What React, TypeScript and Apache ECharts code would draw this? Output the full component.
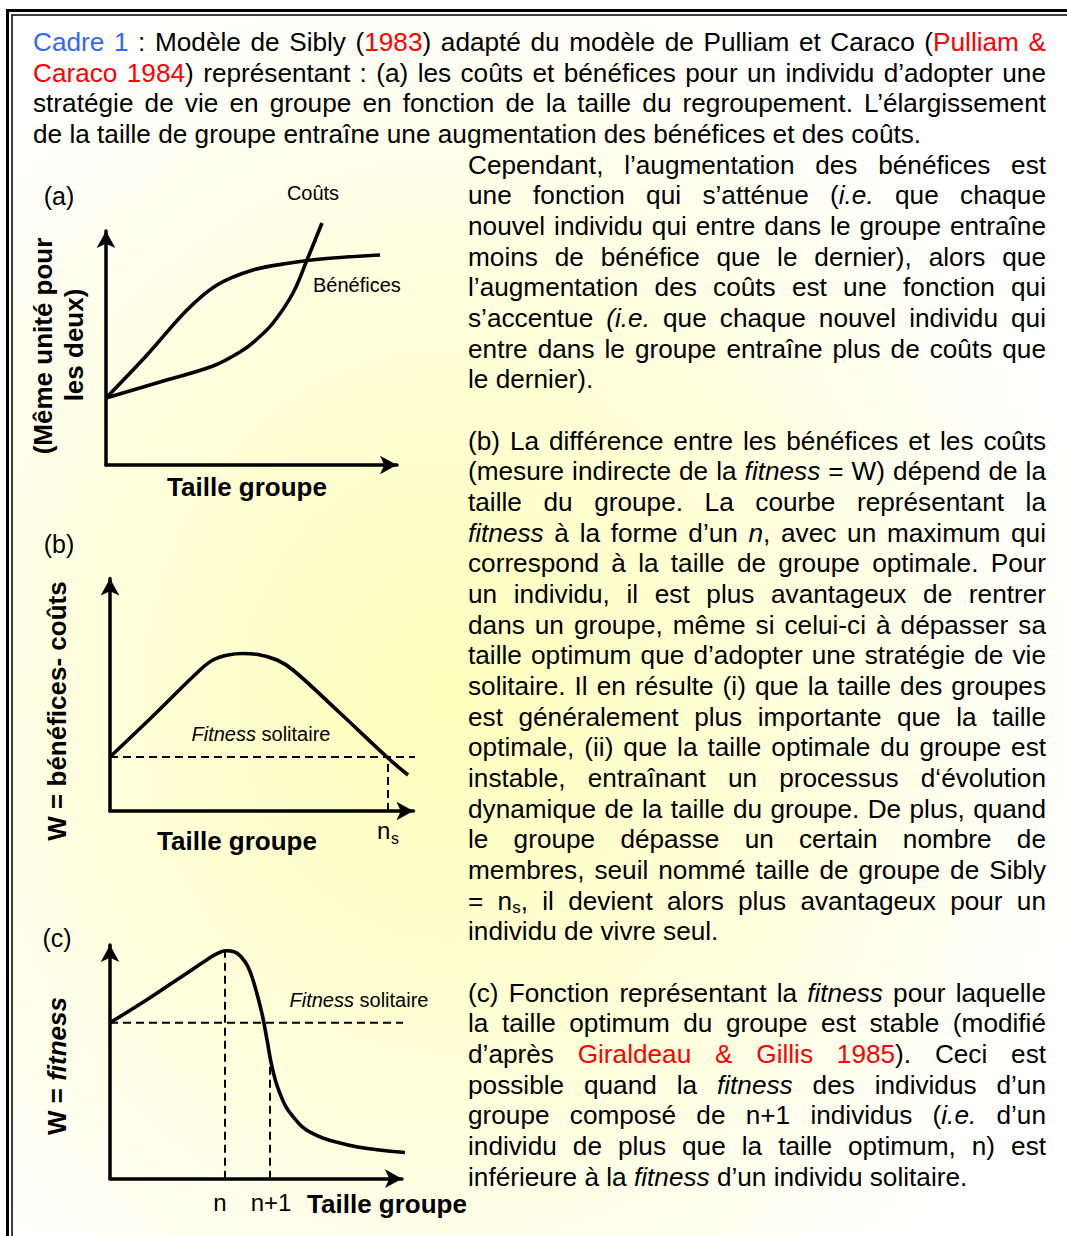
import React, { useEffect, useRef } from "react";
import * as echarts from "echarts";

const FONT = "'Liberation Sans', Arial, Helvetica, sans-serif";

// ---------- chart data (axis units = px from the origin of each small chart) ----------
// (a) benefits and costs vs group size
const benefitsA: number[][] = [[0, 67], [41, 110], [81, 155], [111, 180], [147, 195], [184, 202], [215, 206], [274, 210]];
const costsA: number[][] = [[0, 67], [54, 83], [107, 99], [134, 113], [150, 125], [167, 142], [187, 172], [201, 205], [216, 242]];
// (b) W = benefits - costs
const fitnessB: number[][] = [[0, 54], [45, 97], [90, 141], [103, 151], [118, 156], [133, 157.5], [148, 156.5], [167, 151], [183, 141], [230, 98], [278, 53], [298, 36]];
const solitaryB = 54;
const sibllyNB = 278;
const solitaryLineEndB = 311;
// (c) W = fitness, stable optimum
const fitnessC: number[][] = [[0, 156], [40, 181], [73, 203], [97, 219], [108, 225.5], [116, 228], [124, 227], [131, 222], [138, 212], [145, 192], [152, 165], [157, 139], [162, 112], [170, 85], [183, 62], [203, 45], [237, 34], [267, 29], [298, 26]];
const solitaryC = 156;
const solitaryLineEndC = 312;
const optimumNC = 115;
const optimumTopC = 228;
const nPlusOneC = 160;
const nPlusOneTopC = 118;

// ---------- text ----------
const headerLines: string[] = [
  "{b:Cadre 1} : Modèle de Sibly ({r:1983}) adapté du modèle de Pulliam et Caraco ({r:Pulliam &}",
  "{r:Caraco 1984}) représentant : (a) les coûts et bénéfices pour un individu d’adopter une",
  "stratégie de vie en groupe en fonction de la taille du regroupement. L’élargissement",
  "de la taille de groupe entraîne une augmentation des bénéfices et des coûts.",
];
const para1: string[] = [
  "Cependant, l’augmentation des bénéfices est",
  "une fonction qui s’atténue ({i:i.e.} que chaque",
  "nouvel individu qui entre dans le groupe entraîne",
  "moins de bénéfice que le dernier), alors que",
  "l’augmentation des coûts est une fonction qui",
  "s’accentue {i:(i.e.} que chaque nouvel individu qui",
  "entre dans le groupe entraîne plus de coûts que",
  "le dernier).",
];
const paraB: string[] = [
  "(b) La différence entre les bénéfices et les coûts",
  "(mesure indirecte de la {i:fitness} = W) dépend de la",
  "taille du groupe. La courbe représentant la",
  "{i:fitness} à la forme d’un {i:n}, avec un maximum qui",
  "correspond à la taille de groupe optimale. Pour",
  "un individu, il est plus avantageux de rentrer",
  "dans un groupe, même si celui-ci à dépasser sa",
  "taille optimum que d’adopter une stratégie de vie",
  "solitaire. Il en résulte (i) que la taille des groupes",
  "est généralement plus importante que la taille",
  "optimale, (ii) que la taille optimale du groupe est",
  "instable, entraînant un processus d‘évolution",
  "dynamique de la taille du groupe. De plus, quand",
  "le groupe dépasse un certain nombre de",
  "membres, seuil nommé taille de groupe de Sibly",
  "= n{s:s}, il devient alors plus avantageux pour un",
  "individu de vivre seul.",
];
const paraC: string[] = [
  "(c) Fonction représentant la {i:fitness} pour laquelle",
  "la taille optimum du groupe est stable (modifié",
  "d’après {r:Giraldeau & Gillis 1985}). Ceci est",
  "possible quand la {i:fitness} des individus d’un",
  "groupe composé de n+1 individus ({i:i.e.} d’un",
  "individu de plus que la taille optimum, n) est",
  "inférieure à la {i:fitness} d’un individu solitaire.",
];

type Piece = { t: string; k: string };
const BODY = 26.2;
const STY: Record<string, { size: number; italic?: boolean; fill: string; dy: number }> = {
  n: { size: BODY, fill: "#000", dy: 0 },
  i: { size: BODY, italic: true, fill: "#000", dy: 0 },
  r: { size: BODY, fill: "#FF0000", dy: 0 },
  b: { size: BODY, fill: "#3366FF", dy: 0 },
  s: { size: 17, fill: "#000", dy: 7 },
};

function parse(line: string): Piece[] {
  const out: Piece[] = [];
  const re = /\{(\w):([^}]*)\}/g;
  let last = 0;
  let m: RegExpExecArray | null;
  while ((m = re.exec(line))) {
    if (m.index > last) out.push({ t: line.slice(last, m.index), k: "n" });
    out.push({ t: m[2], k: m[1] });
    last = re.lastIndex;
  }
  if (last < line.length) out.push({ t: line.slice(last), k: "n" });
  return out;
}

function toWords(pieces: Piece[]): Piece[][] {
  const ws: Piece[][] = [];
  let cur: Piece[] | null = null;
  pieces.forEach((p) => {
    p.t.split(" ").forEach((seg, i) => {
      if (i > 0 || !cur) {
        cur = [];
        ws.push(cur);
      }
      if (seg) (cur as Piece[]).push({ t: seg, k: p.k });
    });
  });
  return ws.filter((w) => w.length > 0);
}

function cssFont(k: string) {
  const s = STY[k];
  return `${s.italic ? "italic " : ""}${s.size}px 'Liberation Sans'`;
}

function layoutParagraph(lines: string[], k0: number, x0: number, x1: number, ctx: CanvasRenderingContext2D, out: any[]) {
  lines.forEach((line, li) => {
    const y = 42 + (k0 + li) * 30.67;
    const justify = li < lines.length - 1;
    const ws = toWords(parse(line));
    const widths = ws.map((w) => w.map((p) => { ctx.font = cssFont(p.k); return ctx.measureText(p.t).width; }));
    const wordW = widths.map((a) => a.reduce((s, v) => s + v, 0));
    const total = wordW.reduce((s, v) => s + v, 0);
    ctx.font = cssFont("n");
    const space = ctx.measureText(" ").width;
    const gap = justify && ws.length > 1 ? (x1 - x0 - total) / (ws.length - 1) : space;
    let x = x0;
    ws.forEach((w, wi) => {
      let px = x;
      w.forEach((p, pi) => {
        const s = STY[p.k];
        out.push({
          type: "text", x: px, y: y + s.dy, silent: true, z: 10,
          style: { text: p.t, fontSize: s.size, fontFamily: FONT, fontStyle: s.italic ? "italic" : "normal", fill: s.fill, textAlign: "left", textVerticalAlign: "middle" },
        });
        px += widths[wi][pi];
      });
      x += wordW[wi] + gap;
    });
  });
}

function txt(x: number, y: number, text: string, size: number, opts: any = {}) {
  return {
    type: "text", x, y, rotation: opts.rotation || 0, silent: true, z: 10,
    style: {
      text, fontSize: size, fontFamily: FONT, fontWeight: opts.bold ? "bold" : "normal", fontStyle: opts.italic ? "italic" : "normal",
      fill: "#000", textAlign: opts.align || "center", textVerticalAlign: "middle",
    },
  };
}

function richFitness(x: number, y: number) {
  return {
    type: "text", x, y, silent: true, z: 10,
    style: {
      text: "{i|Fitness}{n| solitaire}", fontSize: 20, fontFamily: FONT, fill: "#000", textAlign: "center", textVerticalAlign: "middle",
      rich: {
        i: { fontStyle: "italic", fontSize: 20, fontFamily: FONT, fill: "#000" },
        n: { fontSize: 20, fontFamily: FONT, fill: "#000" },
      },
    },
  };
}

const grids = [
  { left: 106, top: 231, width: 291, height: 234 },
  { left: 110, top: 578.5, width: 303.5, height: 232.5 },
  { left: 110, top: 945, width: 292, height: 233.7 },
];

export default function App() {
  const ref = useRef<HTMLDivElement>(null);
  useEffect(() => {
    if (!ref.current) return;
    const chart = echarts.init(ref.current, null, { renderer: "svg" });
    const canvas = document.createElement("canvas");
    const ctx = canvas.getContext("2d") as CanvasRenderingContext2D;

    const graphics: any[] = [];
    // background
    graphics.push({
      type: "rect", silent: true, z: -10,
      shape: { x: 12, y: 15, width: 1060, height: 1225 },
      style: {
        fill: new echarts.graphic.RadialGradient(0.41, 0.56, 0.62, [
          { offset: 0, color: "#FFFFBC" },
          { offset: 0.45, color: "#FFFFD6" },
          { offset: 1, color: "#FFFFFF" },
        ]),
      },
    });
    // double border
    graphics.push({ type: "rect", silent: true, z: -5, shape: { x: 7.5, y: 10.5, width: 1200, height: 1400 }, style: { fill: "none", stroke: "#000", lineWidth: 3 } });
    graphics.push({ type: "rect", silent: true, z: -5, shape: { x: 12, y: 15, width: 1200, height: 1400 }, style: { fill: "none", stroke: "#000", lineWidth: 1.5 } });

    layoutParagraph(headerLines, 0, 33, 1046, ctx, graphics);
    layoutParagraph(para1, 4, 468, 1046, ctx, graphics);
    layoutParagraph(paraB, 13, 468, 1046, ctx, graphics);
    layoutParagraph(paraC, 31, 468, 1046, ctx, graphics);

    // chart (a) texts
    graphics.push(txt(59, 196, "(a)", 25));
    graphics.push(txt(313, 193, "Coûts", 20));
    graphics.push(txt(313, 285, "Bénéfices", 20, { align: "left" }));
    graphics.push(txt(43, 346, "(Même unité pour", 26, { bold: true, rotation: Math.PI / 2 }));
    graphics.push(txt(74, 345, "les deux)", 26, { bold: true, rotation: Math.PI / 2 }));
    graphics.push(txt(247, 487, "Taille groupe", 26, { bold: true }));
    // chart (b) texts
    graphics.push(txt(59, 544, "(b)", 25));
    graphics.push(txt(57, 711, "W = bénéfices- coûts", 26, { bold: true, rotation: Math.PI / 2 }));
    graphics.push(richFitness(261, 734));
    graphics.push(txt(237, 841, "Taille groupe", 26, { bold: true }));
    graphics.push(txt(377, 830, "n", 24, { align: "left" }));
    graphics.push(txt(391, 838, "s", 16, { align: "left" }));
    // chart (c) texts
    graphics.push(txt(57, 938, "(c)", 25));
    graphics.push({
      type: "text", x: 57, y: 1066, rotation: Math.PI / 2, silent: true, z: 10,
      style: {
        text: "{b|W = }{bi|fitness}", fontSize: 26, fontFamily: FONT, fontWeight: "bold", fill: "#000", textAlign: "center", textVerticalAlign: "middle",
        rich: {
          b: { fontWeight: "bold", fontSize: 26, fontFamily: FONT, fill: "#000" },
          bi: { fontWeight: "bold", fontStyle: "italic", fontSize: 26, fontFamily: FONT, fill: "#000" },
        },
      },
    });
    graphics.push(richFitness(359, 1000));
    graphics.push(txt(220, 1202, "n", 24));
    graphics.push(txt(271, 1202, "n+1", 24));
    graphics.push(txt(387, 1204, "Taille groupe", 26, { bold: true }));

    const axisCommon = {
      type: "value", min: 0,
      axisLabel: { show: false }, axisTick: { show: false }, splitLine: { show: false },
      axisLine: { show: true, onZero: false, lineStyle: { color: "#000", width: 3.5 }, symbol: ["none", "arrow"], symbolSize: [14, 17] },
    };
    const solid = (data: number[][], gi: number, smooth = 0.35) => ({
      type: "line", xAxisIndex: gi, yAxisIndex: gi, data, showSymbol: false, symbol: "none", smooth, clip: false, silent: true,
      lineStyle: { color: "#000", width: 3.6 }, z: 5,
    });
    const dashed = (data: number[][], gi: number) => ({
      type: "line", xAxisIndex: gi, yAxisIndex: gi, data, showSymbol: false, symbol: "none", clip: false, silent: true,
      lineStyle: { color: "#000", width: 2, type: [8, 5] }, z: 4,
    });

    chart.setOption({
      animation: false,
      backgroundColor: "#FFFFFF",
      grid: grids.map((g) => ({ ...g, containLabel: false })),
      xAxis: grids.map((g, i) => ({ ...axisCommon, gridIndex: i, max: g.width })),
      yAxis: grids.map((g, i) => ({ ...axisCommon, gridIndex: i, max: g.height })),
      series: [
        solid(benefitsA, 0),
        solid(costsA, 0),
        solid(fitnessB, 1, 0.4),
        dashed([[0, solitaryB], [solitaryLineEndB, solitaryB]], 1),
        dashed([[sibllyNB, 0], [sibllyNB, solitaryB]], 1),
        solid(fitnessC, 2, 0.45),
        dashed([[0, solitaryC], [solitaryLineEndC, solitaryC]], 2),
        dashed([[optimumNC, 0], [optimumNC, optimumTopC]], 2),
        dashed([[nPlusOneC, 0], [nPlusOneC, nPlusOneTopC]], 2),
      ],
      graphic: { elements: graphics },
    });
    return () => chart.dispose();
  }, []);
  return <div ref={ref} style={{ position: "absolute", left: 0, top: 0, width: 1067, height: 1236 }} />;
}
